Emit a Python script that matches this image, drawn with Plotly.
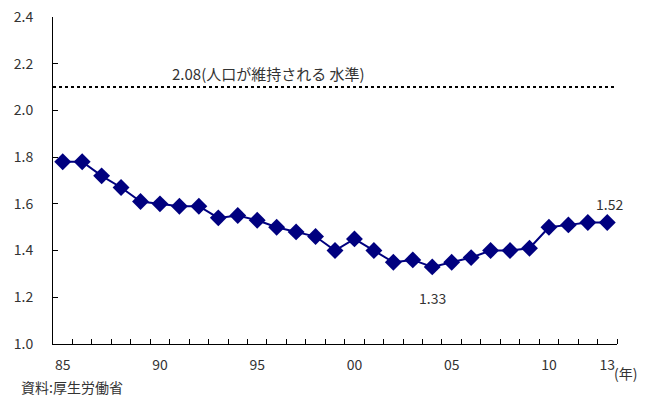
import plotly.graph_objects as go

years = list(range(1985, 2014))
tfr = [1.78, 1.78, 1.72, 1.67, 1.61, 1.60, 1.59, 1.59, 1.54, 1.55,
       1.53, 1.50, 1.48, 1.46, 1.40, 1.45, 1.40, 1.35, 1.36, 1.33,
       1.35, 1.37, 1.40, 1.40, 1.41, 1.50, 1.51, 1.52, 1.52]
tick_years = [1985, 1990, 1995, 2000, 2005, 2010, 2013]
tick_text = ["85", "90", "95", "00", "05", "10", "13"]
y_ticks = [1.0, 1.2, 1.4, 1.6, 1.8, 2.0, 2.2, 2.4]
replacement_level = 2.1
replacement_label = "2.08(人口が維持される 水準)"
min_year, min_label = 2004, "1.33"
last_year, last_label = 2013, "1.52"
source_text = "資料:厚生労働省"
unit_text = "(年)"

FONT = "Noto Sans CJK JP"
TXT = "#333333"

fig = go.Figure()
fig.add_trace(go.Scatter(
    x=years, y=tfr, mode="lines+markers",
    line=dict(color="#00007f", width=2),
    marker=dict(symbol="diamond", size=13, color="#00007f"),
    showlegend=False, hoverinfo="skip"))

fig.add_shape(type="line", xref="x", yref="y",
              x0=1984.5, x1=2013.75, y0=replacement_level, y1=replacement_level,
              line=dict(color="black", width=2, dash="dot"))

fig.add_annotation(x=1990.5, y=replacement_level, xref="x", yref="y",
                   text=replacement_label, showarrow=False,
                   xanchor="left", yanchor="bottom", yshift=1,
                   font=dict(family=FONT, size=15, color=TXT))
fig.add_annotation(x=min_year, y=tfr[years.index(min_year)], xref="x", yref="y",
                   text=min_label, showarrow=False, yshift=-31,
                   font=dict(family=FONT, size=14, color=TXT))
fig.add_annotation(x=last_year, y=tfr[years.index(last_year)], xref="x", yref="y",
                   text=last_label, showarrow=False, yshift=19, xshift=2,
                   font=dict(family=FONT, size=14, color=TXT))
fig.add_annotation(x=1, y=0, xref="paper", yref="paper",
                   text=unit_text, showarrow=False, xanchor="left", yanchor="top",
                   xshift=-5, yshift=-17,
                   font=dict(family=FONT, size=14, color=TXT))
fig.add_annotation(x=0, y=0, xref="paper", yref="paper",
                   text=source_text, showarrow=False, xanchor="left", yanchor="middle",
                   xshift=-34, yshift=-43,
                   font=dict(family=FONT, size=14, color=TXT))

fig.update_layout(
    width=653, height=403,
    margin=dict(l=53, r=35.5, t=17, b=59),
    paper_bgcolor="white", plot_bgcolor="white",
    font=dict(family=FONT, size=14, color=TXT),
    xaxis=dict(range=[1984.5, 2013.5], tickvals=tick_years, ticktext=tick_text,
               ticks="", showgrid=False, zeroline=False, automargin=False,
               showline=True, linecolor="black", linewidth=1,
               ticklabelstandoff=8,
               minor=dict(tickvals=[y + 0.5 for y in years], ticks="inside",
                          ticklen=5, tickcolor="black", tickwidth=1, showgrid=False)),
    yaxis=dict(range=[1.0, 2.4], tickvals=y_ticks, tickformat=".1f",
               ticks="inside", ticklen=5, tickcolor="black", automargin=False,
               showgrid=False, zeroline=False,
               showline=True, linecolor="black", linewidth=1,
               ticklabelstandoff=16),
)

fig.write_html("out.html", config={"displayModeBar": False},
               post_script="document.body.style.margin='0';")
